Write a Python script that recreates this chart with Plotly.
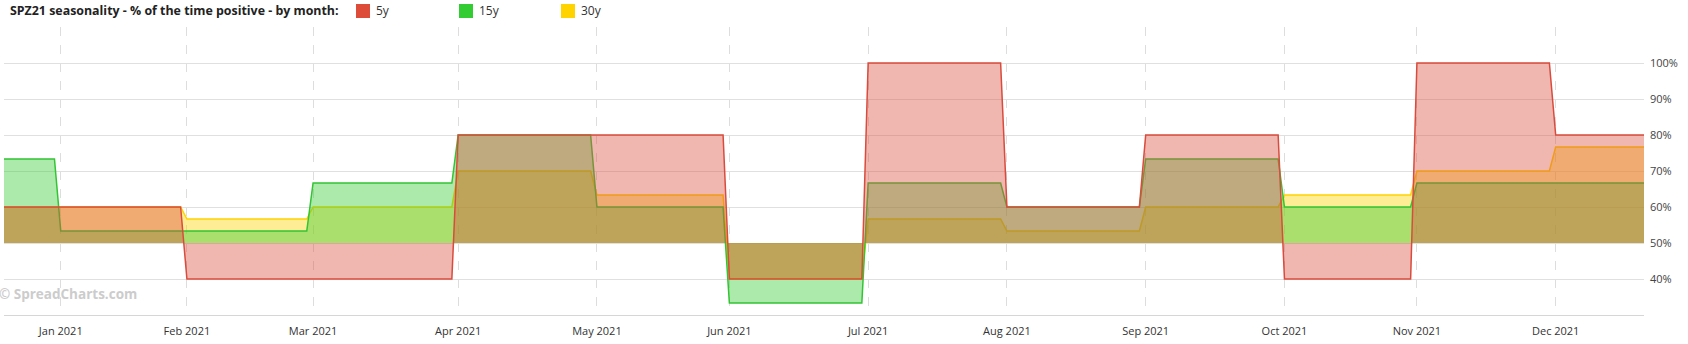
import pandas as pd
import plotly.graph_objects as go

# ---------------- data ----------------
title_text = "SPZ21 seasonality - % of the time positive - by month:"
watermark_text = "© SpreadCharts.com"
months = ["2020-12", "2021-01", "2021-02", "2021-03", "2021-04", "2021-05", "2021-06",
          "2021-07", "2021-08", "2021-09", "2021-10", "2021-11", "2021-12"]
series_names = ["5y", "15y", "30y"]
pct_5y = [60, 60, 40, 40, 80, 80, 40, 100, 60, 80, 40, 100, 80]
pct_15y = [73.33, 53.33, 53.33, 66.67, 80, 60, 33.33, 66.67, 60, 73.33, 60, 66.67, 66.67]
pct_30y = [60, 60, 56.67, 60, 70, 63.33, 40, 56.67, 53.33, 60, 63.33, 70, 76.67]
baseline_pct = 50
start_date = "2020-12-21"
end_date = "2021-12-21"
holidays = ["2021-01-01"]
tick_labels = ["Jan 2021", "Feb 2021", "Mar 2021", "Apr 2021", "May 2021", "Jun 2021",
               "Jul 2021", "Aug 2021", "Sep 2021", "Oct 2021", "Nov 2021", "Dec 2021"]
y_tick_vals = [30, 40, 50, 60, 70, 80, 90, 100, 110]
y_tick_text = ["", "40%", "50%", "60%", "70%", "80%", "90%", "100%", ""]

# ---------------- styles ----------------
line_colors = {"5y": "#D94C3D", "15y": "#33C433", "30y": "#FFD200"}
fill_colors = {"5y": "rgba(219,78,63,0.41)", "15y": "rgba(51,204,51,0.41)",
               "30y": "rgba(255,212,0,0.41)"}
legend_colors = {"5y": "#DD4B39", "15y": "#33CC33", "30y": "#FFD300"}
FONT = "Open Sans"

W, H = 1688, 344
ML, MR, MT, MB = 4, 44, 27, 29
PW, PH = W - ML - MR, H - MT - MB


def px_x(px):
    return (px - ML) / PW


def px_y(py):
    return (H - MB - py) / PH


# business days (weekdays, minus holiday)
days = pd.bdate_range(start_date, end_date, freq="C", holidays=holidays)
periods = days.to_period("M").astype(str)
xs = []
for m in months:
    d = days[periods == m]
    xs += [d[0], d[-1]]
tick_vals = [days[periods == m][0] for m in months[1:]]

values = {"5y": pct_5y, "15y": pct_15y, "30y": pct_30y}

fig = go.Figure()
for name in ["30y", "15y", "5y"]:
    ys = []
    for v in values[name]:
        ys += [v, v]
    fig.add_trace(go.Scatter(x=xs, y=[baseline_pct] * len(xs), mode="lines",
                             line=dict(width=0), showlegend=False, hoverinfo="skip"))
    fig.add_trace(go.Scatter(x=xs, y=ys, mode="lines", name=name, fill="tonexty",
                             fillcolor=fill_colors[name],
                             line=dict(color=line_colors[name], width=1.5),
                             showlegend=False))

annotations = [
    dict(text="<b>" + title_text + "</b>", xref="paper", yref="paper",
         x=px_x(8), y=px_y(11), xanchor="left", yanchor="middle", showarrow=False,
         font=dict(family=FONT, size=12.4, color="#222")),
    dict(text="<b>" + watermark_text + "</b>", xref="paper", yref="paper",
         x=px_x(-3), y=px_y(294), xanchor="left", yanchor="middle", showarrow=False,
         font=dict(family=FONT, size=13.5, color="#cccccc")),
]
shapes = []
legend_x = {"5y": 356, "15y": 459, "30y": 561}
for name in series_names:
    x0 = legend_x[name]
    shapes.append(dict(type="rect", xref="paper", yref="paper",
                       x0=px_x(x0), x1=px_x(x0 + 14), y0=px_y(4), y1=px_y(18),
                       fillcolor=legend_colors[name], line=dict(width=0)))
    annotations.append(dict(text=name, xref="paper", yref="paper",
                            x=px_x(x0 + 18), y=px_y(11), xanchor="left", yanchor="middle",
                            showarrow=False, font=dict(family=FONT, size=12, color="#333")))

fig.update_layout(
    width=W, height=H,
    margin=dict(l=ML, r=MR, t=MT, b=MB),
    paper_bgcolor="white", plot_bgcolor="white",
    showlegend=False,
    annotations=annotations, shapes=shapes,
    xaxis=dict(type="date", range=[start_date, end_date],
               rangebreaks=[dict(bounds=["sat", "mon"]), dict(values=holidays)],
               tickvals=tick_vals, ticktext=tick_labels,
               showgrid=True, gridcolor="#dddddd", griddash="dash", gridwidth=1,
               showline=True, linecolor="#d6d6d6", linewidth=1, ticks="",
               zeroline=False, tickfont=dict(family=FONT, size=11, color="#333"),
               ticklabelstandoff=6),
    yaxis=dict(side="right", range=[30, 110], tickvals=y_tick_vals, ticktext=y_tick_text,
               showgrid=True, gridcolor="#e0e0e0", gridwidth=1, zeroline=False,
               ticks="", showline=False,
               tickfont=dict(family=FONT, size=11, color="#444"),
               ticklabelstandoff=5),
    hovermode=False,
)

fig.write_html("out.html")
